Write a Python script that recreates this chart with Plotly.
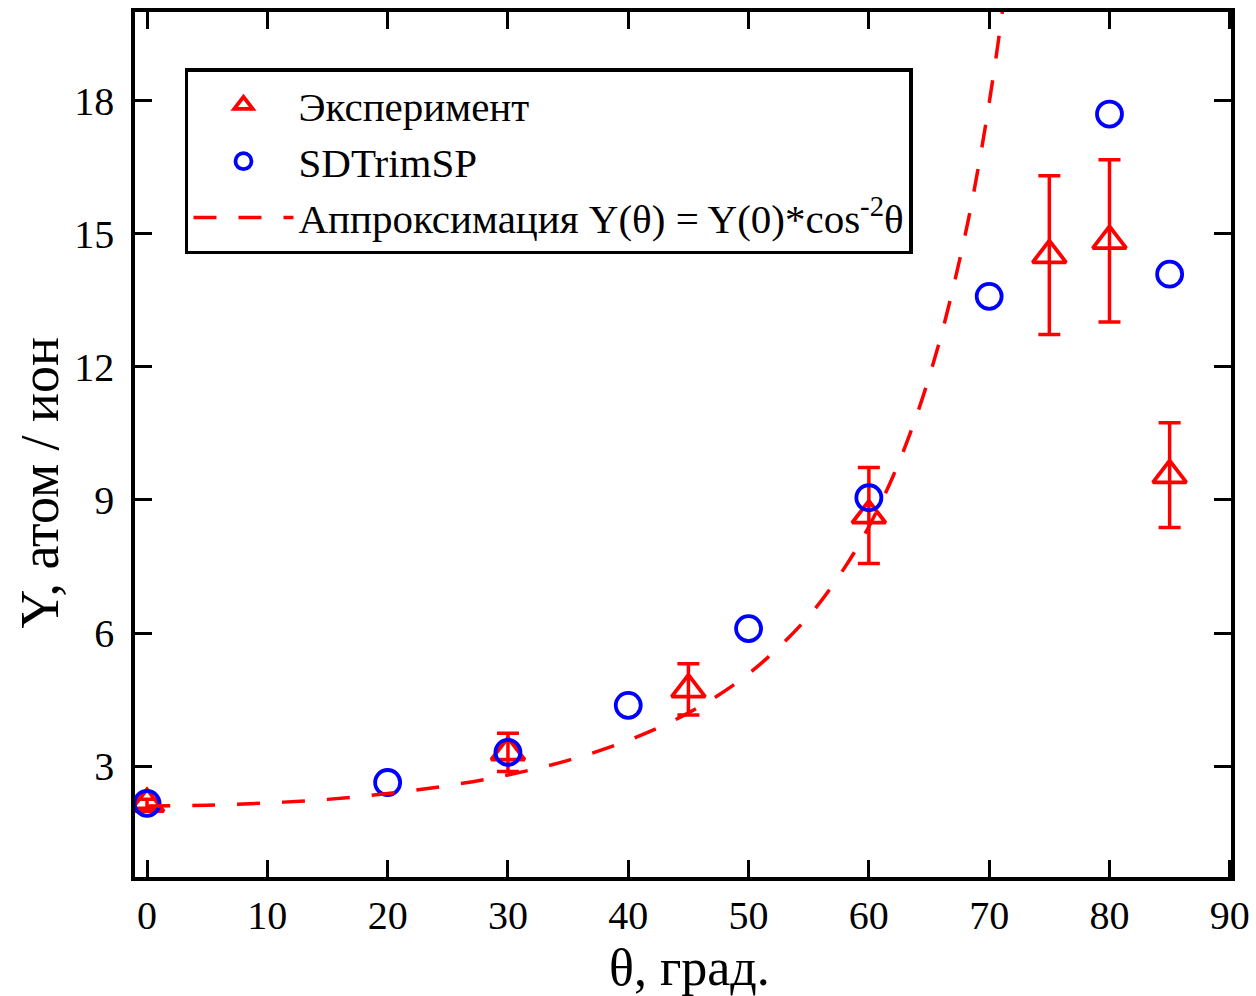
import plotly.graph_objects as go

# Experimental data (triangles with error bars)
exp_theta = [0, 30, 45, 60, 75, 80, 85]
exp_y = [2.15, 3.31, 4.73, 8.65, 14.52, 14.84, 9.56]
exp_err = [0.1, 0.43, 0.58, 1.08, 1.79, 1.83, 1.18]

# SDTrimSP simulation (open circles)
sim_theta = [0, 20, 30, 40, 50, 60, 70, 80, 85]
sim_y = [2.16, 2.63, 3.31, 4.37, 6.10, 9.05, 13.59, 17.70, 14.09]

# Approximation curve
fit_theta = [0, 5, 10, 15, 20, 25, 30, 35, 40, 45, 50, 55, 58, 60, 62, 64, 66, 68, 69, 70, 71, 72]
fit_y = [2.10, 2.12, 2.17, 2.25, 2.38, 2.56, 2.80, 3.13, 3.58, 4.20, 5.08, 6.38, 7.48, 8.40,
         9.53, 10.93, 12.70, 14.97, 16.35, 17.95, 19.81, 21.99]

x_ticks = [0, 10, 20, 30, 40, 50, 60, 70, 80, 90]
y_ticks = [3, 6, 9, 12, 15, 18]

FONT = "Liberation Serif, Times New Roman, serif"

fig = go.Figure()
fig.add_trace(go.Scatter(
    x=exp_theta, y=exp_y, mode="markers", name="Эксперимент",
    marker=dict(symbol="triangle-up-open", size=29, color="#ff0000", line=dict(width=3.8, color="#ff0000")),
    error_y=dict(type="data", array=exp_err, visible=True, color="#ff0000", thickness=3.5, width=11),
))
fig.add_trace(go.Scatter(
    x=sim_theta, y=sim_y, mode="markers", name="SDTrimSP",
    marker=dict(symbol="circle-open", size=25, color="#0000ff", line=dict(width=3.8, color="#0000ff")),
))
fig.add_trace(go.Scatter(
    x=fit_theta, y=fit_y, mode="lines", name="Аппроксимация Y(θ) = Y(0)*cos<sup>-2</sup>θ",
    line=dict(color="#ff0000", width=3.5, dash="23px,22px", shape="spline"),
))

axis_common = dict(
    showline=True, linecolor="black", linewidth=3.5, mirror="ticks",
    ticks="inside", ticklen=17, tickwidth=3, tickcolor="black",
    showgrid=False, zeroline=False, automargin=False,
    tickfont=dict(family=FONT, size=40, color="black"),
)

fig.update_xaxes(range=[-1, 90.1], tickvals=x_ticks, ticktext=[str(v) for v in x_ticks],
                 ticklabelstandoff=0, **axis_common)
fig.update_yaxes(range=[0.5, 20], tickvals=y_ticks, ticktext=[str(v) for v in y_ticks],
                 ticklabelstandoff=9, **axis_common)

fig.update_layout(
    width=1256, height=996,
    margin=dict(l=135, r=25, t=12, b=119, autoexpand=False),
    paper_bgcolor="white", plot_bgcolor="white",
    font=dict(family=FONT, color="black"),
    showlegend=True,
    legend=dict(
        x=0.0456, y=0.935, xanchor="left", yanchor="top",
        bgcolor="white", bordercolor="black", borderwidth=3.5,
        font=dict(family=FONT, size=41, color="black"),
        itemwidth=100,
    ),
    annotations=[
        dict(text="θ, град.", xref="paper", yref="paper", x=0.506, y=-0.105,
             xanchor="center", yanchor="middle", showarrow=False,
             font=dict(family=FONT, size=52, color="black")),
        dict(text="Y, атом / ион", xref="paper", yref="paper", x=-0.0867, y=0.456,
             xanchor="center", yanchor="middle", showarrow=False, textangle=-90,
             font=dict(family=FONT, size=54, color="black")),
    ],
)

fig.write_html("out.html")
